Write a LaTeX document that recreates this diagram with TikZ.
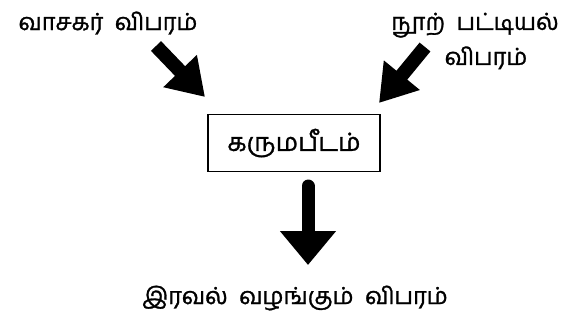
\documentclass[tikz,border=0pt]{standalone}
\usepackage{fontspec}
\newfontfamily\tamilfont[Script=Tamil,FakeBold=1.2]{Hind Madurai}
\usetikzlibrary{arrows.meta}

\begin{document}
\begin{tikzpicture}[x=1pt,y=-1pt,
            txt/.style={
              font=\tamilfont\fontsize{23.5}{35}\selectfont,
              inner sep=0pt,
              align=center
            },
            desk/.style={
              draw,
              line width=1.2pt,
              minimum width=172pt,
              minimum height=57pt,
              font=\tamilfont\fontsize{25}{30}\selectfont
            },
            fat/.style={
              line width=14pt,
              -{Triangle[length=36pt,width=44pt]}
            }
            ]
            \useasboundingbox (0,0) rectangle (585,327);

            \node[txt] (reader) at (108,23)
              {வாசகர்\ \ விபரம்};
            \node[txt] (books) at (475,41)
              {நூற்\ \ பட்டியல்\\\hspace{22pt}விபரம்};
            \node[desk] (counter) at (294,143)
              {கருமபீடம்};
            \node[txt] (loan) at (295,298)
              {இரவல்\ \ வழங்கும்\ \ விபரம்};

            \coordinate (r0) at (156,46);
            \coordinate (r1) at (205,97);
            \coordinate (b0) at (425,47);
            \coordinate (b1) at (379,103);
            \coordinate (l0) at (308,186);
            \coordinate (l1) at (308,265);

            \draw[fat] (r0) -- (r1);
            \draw[fat] (b0) -- (b1);
            \draw[fat,line width=13pt,line cap=round,
              -{Triangle[length=34pt,width=54pt]}] (l0) -- (l1);
\end{tikzpicture}
\end{document}
